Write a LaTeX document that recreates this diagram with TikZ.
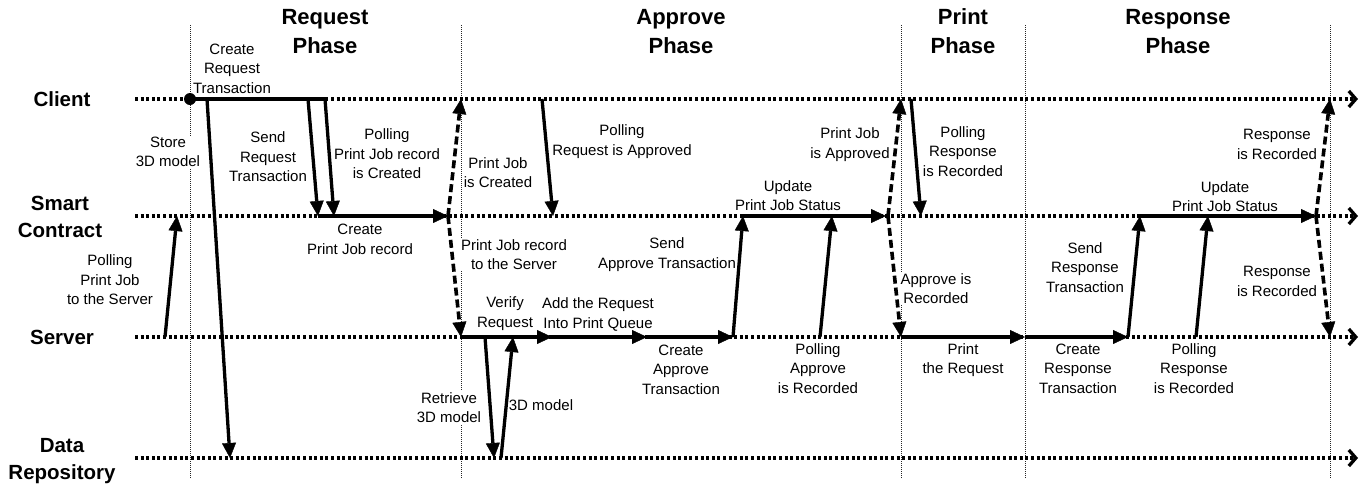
\documentclass[tikz,border=0pt]{standalone}
\usepackage{fontspec}
\setmainfont{Liberation Sans}
\usetikzlibrary{arrows.meta}
\begin{document}
\begin{tikzpicture}[x=1pt,y=-1pt,
  lane/.style={line width=3.3pt, dash pattern=on 3pt off 2.6pt,
    -{Straight Barb[length=7pt,width=16pt,line width=3.3pt]}},
  phase/.style={line width=0.8pt, dash pattern=on 1pt off 1pt, black!85},
  msg/.style={line width=3.3pt, -{Triangle[length=15pt,width=14pt,line width=0.4pt]}},
  bar/.style={line width=3.3pt},
  reply/.style={line width=3.6pt, dash pattern=on 8pt off 4pt,
    -{Triangle[length=15pt,width=14pt,line width=0.4pt]}},
  lbl/.style={align=center, font=\fontsize{15}{19.5}\selectfont, fill=white, inner sep=1pt},
  lanelbl/.style={align=center, font=\fontsize{20.5}{27}\selectfont\bfseries},
  title/.style={align=center, font=\fontsize{22}{29}\selectfont\bfseries}]

\fill[white] (0,0) rectangle (1372,491);
\useasboundingbox (0,0) rectangle (1372,491);

% phase separators
\foreach \x/\n in {190/p1, 461/p2, 901/p3, 1025/p4, 1330/p5} {
  \coordinate (\n top) at (\x,25);
  \coordinate (\n bot) at (\x,479);
  \draw[phase] (\n top) -- (\n bot);
}

% phase titles
\node[title] (tReq) at (325,31.5) {Request\\Phase};
\node[title] (tApp) at (681,31.5) {Approve\\Phase};
\node[title] (tPri) at (963,31.5) {Print\\Phase};
\node[title] (tRes) at (1178,31.5) {Response\\Phase};

% lane names
\node[lanelbl] (nC) at (62,99) {Client};
\node[lanelbl] (nS) at (60,216.5) {Smart\\Contract};
\node[lanelbl] (nV) at (62,337) {Server};
\node[lanelbl] (nD) at (62,461.5) {Data\\Repository};

% message labels
\node[lbl] (l1) at (232,68.5) {Create\\Request\\Transaction};
\node[lbl] (l2) at (168,152) {Store\\3D model};
\node[lbl] (l3) at (268,157) {Send\\Request\\Transaction};
\node[lbl] (l4) at (387,154) {Polling\\Print Job record\\is Created};
\node[lbl] (l5) at (360,239.5) {Create\\Print Job record};
\node[lbl] (l6) at (110,280) {Polling\\Print Job\\to the Server};
\node[lbl] (l7) at (498,172.5) {Print Job\\is Created};
\node[lbl] (l8) at (622,141.5) {Polling\\Request is Approved};
\node[lbl] (l9) at (850,144.5) {Print Job\\is Approved};
\node[lbl] (l10) at (788,195.5) {Update\\Print Job Status};
\node[lbl] (l11) at (514,254.5) {Print Job record\\to the Server};
\node[lbl] (l12) at (667,254.5) {Send\\Approve Transaction};
\node[lbl] (l13) at (505,313.5) {Verify\\Request};
\node[lbl] (l14) at (598,314.5) {Add the Request\\Into Print Queue};
\node[lbl] (l15) at (681,369.5) {Create\\Approve\\Transaction};
\node[lbl] (l16) at (818,368.5) {Polling\\Approve\\is Recorded};
\node[lbl] (l17) at (449,407.5) {Retrieve\\3D model};
\node[lbl] (l18) at (541,405) {3D model};
\node[lbl] (l19) at (963,151.5) {Polling\\Response\\is Recorded};
\node[lbl] (l20) at (936,288.5) {Approve is\\Recorded};
\node[lbl] (l21) at (963,360) {Print\\the Request};
\node[lbl] (l22) at (1078,368.5) {Create\\Response\\Transaction};
\node[lbl] (l23) at (1085,267.5) {Send\\Response\\Transaction};
\node[lbl] (l24) at (1194,368.5) {Polling\\Response\\is Recorded};
\node[lbl] (l25) at (1225,196.5) {Update\\Print Job Status};
\node[lbl] (l26) at (1277,144.5) {Response\\is Recorded};
\node[lbl] (l27) at (1277,281.5) {Response\\is Recorded};

% lifelines
\foreach \y/\n in {99/C, 216/S, 337/V, 458/D} {
  \coordinate (\n0) at (135,\y);
  \coordinate (\n1) at (1358,\y);
  \draw[lane] (\n0) -- (\n1);
}

% Request phase
\coordinate (a0) at (190,99);
\coordinate (a1) at (325,99);
\coordinate (a2) at (207,99);
\coordinate (a3) at (230,458);
\coordinate (a4) at (308,99);
\coordinate (a5) at (318,216);
\coordinate (a6) at (334,216);
\coordinate (a7) at (448,216);
\coordinate (a8) at (165,337);
\coordinate (a9) at (177,216);
\draw[bar] (a0) -- (a1);
\fill (a0) circle (6pt);
\draw[msg] (a2) -- (a3);
\draw[msg] (a4) -- (a5);
\draw[msg] (a1) -- (a6);
\draw[msg] (a5) -- (a7);
\draw[msg] (a8) -- (a9);

% Approve phase
\coordinate (b0) at (461,99);
\coordinate (b1) at (461,337);
\coordinate (b2) at (542,99);
\coordinate (b3) at (553,216);
\coordinate (b4) at (552,337);
\coordinate (b5) at (647,337);
\coordinate (b6) at (733,337);
\coordinate (b7) at (485,337);
\coordinate (b8) at (494,458);
\coordinate (b9) at (501,458);
\coordinate (b10) at (513,337);
\coordinate (b11) at (743,216);
\coordinate (b12) at (886,216);
\coordinate (b13) at (820,337);
\coordinate (b14) at (832,216);
\draw[reply] (a7) -- (b0);
\draw[reply] (a7) -- (b1);
\draw[msg] (b2) -- (b3);
\draw[msg] (b1) -- (b4);
\draw[msg] (b4) -- (b5);
\draw[msg] (b5) -- (b6);
\draw[msg] (b7) -- (b8);
\draw[msg] (b9) -- (b10);
\draw[msg] (b6) -- (b11);
\draw[msg] (b11) -- (b12);
\draw[msg] (b13) -- (b14);

% Print phase
\coordinate (c0) at (888,216);
\coordinate (c1) at (901,99);
\coordinate (c2) at (901,337);
\coordinate (c3) at (911,99);
\coordinate (c4) at (921,216);
\coordinate (c5) at (1025,337);
\draw[reply] (c0) -- (c1);
\draw[reply] (c0) -- (c2);
\draw[msg] (c3) -- (c4);
\draw[msg] (c2) -- (c5);

% Response phase
\coordinate (d0) at (1128,337);
\coordinate (d1) at (1140,216);
\coordinate (d2) at (1316,216);
\coordinate (d3) at (1196,337);
\coordinate (d4) at (1208,216);
\coordinate (d5) at (1330,99);
\coordinate (d6) at (1330,337);
\draw[msg] (c5) -- (d0);
\draw[msg] (d0) -- (d1);
\draw[msg] (d1) -- (d2);
\draw[msg] (d3) -- (d4);
\draw[reply] (d2) -- (d5);
\draw[reply] (d2) -- (d6);

\end{tikzpicture}
\end{document}
